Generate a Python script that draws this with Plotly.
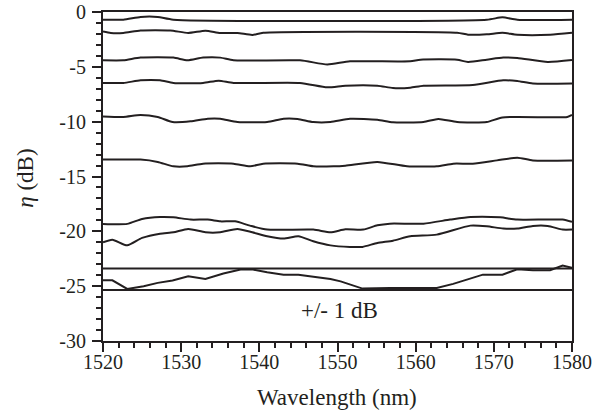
import plotly.graph_objects as go

# ---- data (wavelength in nm, efficiency in dB) ----
wl_a = [1520, 1522.6, 1524.8, 1527.0, 1529.0, 1569.1, 1571.1, 1573.0, 1580]
eta_a = [-0.70, -0.70, -0.45, -0.45, -0.70, -0.70, -0.49, -0.70, -0.70]

wl_b = [1520, 1521, 1522.6, 1524.8, 1528.6, 1530.9, 1533.1, 1535, 1537.2, 1539.1,
        1540.5, 1565.3, 1566.7, 1569.1, 1571.1, 1573, 1577.2, 1580]
eta_b = [-1.77, -1.91, -1.91, -1.68, -1.68, -1.91, -1.70, -1.91, -1.91, -2.09,
         -1.89, -1.89, -2.07, -2.04, -1.89, -2.07, -2.07, -1.89]

wl_c = [1520, 1522.6, 1524.8, 1529.0, 1530.8, 1532.8, 1535.0, 1536.7, 1545.2, 1548.7,
        1551.6, 1559.3, 1560.6, 1565.3, 1566.7, 1569.1, 1571.2, 1573.0, 1576.9, 1580]
eta_c = [-4.41, -4.41, -4.16, -4.16, -4.41, -4.16, -4.16, -4.41, -4.41, -4.78,
         -4.50, -4.50, -4.35, -4.35, -4.56, -4.35, -4.16, -4.19, -4.56, -4.38]

wl_d = [1520, 1522.6, 1524.8, 1527.3, 1529.0, 1532.8, 1534.8, 1536.7, 1545.2, 1548.7,
        1551.0, 1555.1, 1557.1, 1559.3, 1561.0, 1567.3, 1571.2, 1573.0, 1575.0, 1580]
eta_d = [-6.47, -6.47, -6.23, -6.23, -6.47, -6.47, -6.26, -6.47, -6.47, -6.87,
         -6.72, -6.72, -6.93, -6.90, -6.72, -6.65, -6.23, -6.29, -6.53, -6.53]

wl_e = [1520, 1522.6, 1524.8, 1527.0, 1528.9, 1531.2, 1533.4, 1535.0, 1537.2, 1541.0,
        1543.1, 1544.9, 1546.9, 1549.1, 1551.6, 1555.1, 1557.1, 1561.0, 1562.9, 1565.3,
        1569.1, 1571.1, 1579.4, 1580]
eta_e = [-9.52, -9.57, -9.39, -9.57, -10.03, -9.97, -9.73, -9.73, -10.03, -10.03,
         -9.73, -9.75, -10.03, -10.03, -9.73, -9.82, -10.06, -10.03, -9.75, -10.03,
         -10.03, -9.61, -9.57, -9.39]

wl_f = [1520, 1524.8, 1527.0, 1529.0, 1530.8, 1532.8, 1536.7, 1538.8, 1540.5, 1544.9,
        1546.9, 1549.5, 1551.0, 1555.1, 1558.9, 1562.7, 1564.8, 1567.3, 1570.4, 1573.0,
        1575.0, 1580]
eta_f = [-13.46, -13.46, -13.67, -14.07, -14.07, -13.83, -13.83, -14.07, -13.83, -13.83,
         -14.07, -14.07, -14.01, -13.67, -14.07, -14.07, -13.83, -13.83, -13.53, -13.28,
         -13.53, -13.53]

wl_g = [1520, 1523.1, 1525.0, 1527.3, 1529.0, 1531.2, 1533.4, 1535.0, 1536.9, 1538.8,
        1541.0, 1546.9, 1549.1, 1551.0, 1553.3, 1555.1, 1556.7, 1561.0, 1564.4, 1567.0,
        1570.8, 1573.0, 1578.8, 1580]
eta_g = [-19.32, -19.32, -18.87, -18.69, -18.72, -18.93, -18.93, -19.09, -19.09, -19.48,
         -19.84, -19.84, -20.09, -19.82, -19.84, -19.45, -19.30, -19.30, -18.93, -18.69,
         -18.72, -18.93, -18.93, -19.14]

wl_h = [1520, 1521.2, 1523.1, 1525.0, 1527.3, 1529.0, 1530.9, 1533.1, 1535.0, 1537.2,
        1539.1, 1541.0, 1543.1, 1545.0, 1546.9, 1549.1, 1551.6, 1553.2, 1555.1, 1557.1,
        1559.3, 1562.7, 1567.0, 1569.1, 1571.2, 1573.0, 1575.0, 1576.9, 1578.8, 1580]
eta_h = [-21.00, -20.76, -21.28, -20.60, -20.21, -20.09, -19.78, -20.09, -20.09, -19.78,
         -20.09, -20.45, -20.66, -20.45, -20.91, -21.28, -21.42, -21.42, -21.06, -20.85,
         -20.45, -20.30, -19.48, -19.54, -19.75, -19.75, -19.51, -19.51, -19.84, -19.84]

wl_i = [1520, 1521.2, 1523.1, 1525.2, 1527.0, 1528.9, 1530.9, 1533.1, 1535.4, 1537.6,
        1539.2, 1541.0, 1543.1, 1545.0, 1547.4, 1549.1, 1550.4, 1553.2, 1556.7, 1562.7,
        1564.8, 1568.6, 1571.1, 1573.0, 1575.0, 1577.2, 1578.8, 1580]
eta_i = [-24.47, -24.47, -25.25, -25.01, -24.70, -24.49, -24.10, -24.34, -23.85, -23.49,
         -23.49, -23.74, -23.95, -23.95, -24.19, -24.34, -24.56, -25.22, -25.16, -25.16,
         -24.79, -23.95, -23.95, -23.46, -23.55, -23.55, -23.12, -23.33]

band_wl = [1520, 1580]
band_upper = [-23.4, -23.4]
band_lower = [-25.35, -25.35]

x_ticks = [1520, 1530, 1540, 1550, 1560, 1570, 1580]
y_ticks = [0, -5, -10, -15, -20, -25, -30]

LINE = "#231f20"
FONT = "Liberation Serif, Times New Roman, serif"

fig = go.Figure()
smooth_series = [(wl_a, eta_a), (wl_b, eta_b), (wl_c, eta_c), (wl_d, eta_d),
                 (wl_e, eta_e), (wl_f, eta_f), (wl_g, eta_g), (wl_h, eta_h)]
for wl, eta in smooth_series:
    fig.add_trace(go.Scatter(x=wl, y=eta, mode="lines",
                             line=dict(color=LINE, width=2, shape="spline", smoothing=0.6),
                             showlegend=False, hoverinfo="skip"))
fig.add_trace(go.Scatter(x=wl_i, y=eta_i, mode="lines",
                         line=dict(color=LINE, width=2), showlegend=False, hoverinfo="skip"))
for yb in (band_upper, band_lower):
    fig.add_trace(go.Scatter(x=band_wl, y=yb, mode="lines",
                             line=dict(color=LINE, width=2), showlegend=False, hoverinfo="skip"))

axis_common = dict(
    showgrid=False, zeroline=False, showline=True, linecolor=LINE, linewidth=2,
    mirror=True, ticks="outside", ticklen=9, tickwidth=2, tickcolor=LINE,
    automargin=False,
    tickfont=dict(family=FONT, size=20, color="#231f20"),
)
fig.update_xaxes(range=[1520, 1580], tickvals=x_ticks,
                 ticktext=[str(v) for v in x_ticks], ticklabelstandoff=-7,
                 minor=dict(dtick=2, ticks="outside", ticklen=5, tickwidth=2, tickcolor=LINE),
                 **axis_common)
fig.update_yaxes(range=[-30, 0], tickvals=y_ticks,
                 ticktext=[str(v) for v in y_ticks], ticklabelstandoff=2,
                 minor=dict(dtick=1, ticks="outside", ticklen=5, tickwidth=2, tickcolor=LINE),
                 **axis_common)

fig.add_annotation(text="Wavelength (nm)", xref="paper", yref="paper",
                   x=0.498, y=-0.173, xanchor="center", yanchor="middle", showarrow=False,
                   font=dict(family=FONT, size=23, color="#231f20"))
fig.add_annotation(text="<i>η</i> (dB)", xref="paper", yref="paper",
                   x=-0.165, y=0.495, xanchor="center", yanchor="middle",
                   textangle=-90, showarrow=False,
                   font=dict(family=FONT, size=23, color="#231f20"))
fig.add_annotation(text="+/- 1 dB", x=1550.2, y=-27.2, xanchor="center", yanchor="middle",
                   showarrow=False,
                   font=dict(family=FONT, size=23, color="#231f20"))

fig.update_layout(
    template="none",
    width=606, height=417,
    margin=dict(l=103, r=34, t=12, b=76),
    paper_bgcolor="white", plot_bgcolor="white",
    showlegend=False,
    hovermode=False,
    font=dict(family=FONT, color="#231f20"),
)

fig.write_html("out.html", config={"displayModeBar": False, "staticPlot": True},
               post_script="document.body.style.margin='0';document.body.style.overflow='hidden';")
